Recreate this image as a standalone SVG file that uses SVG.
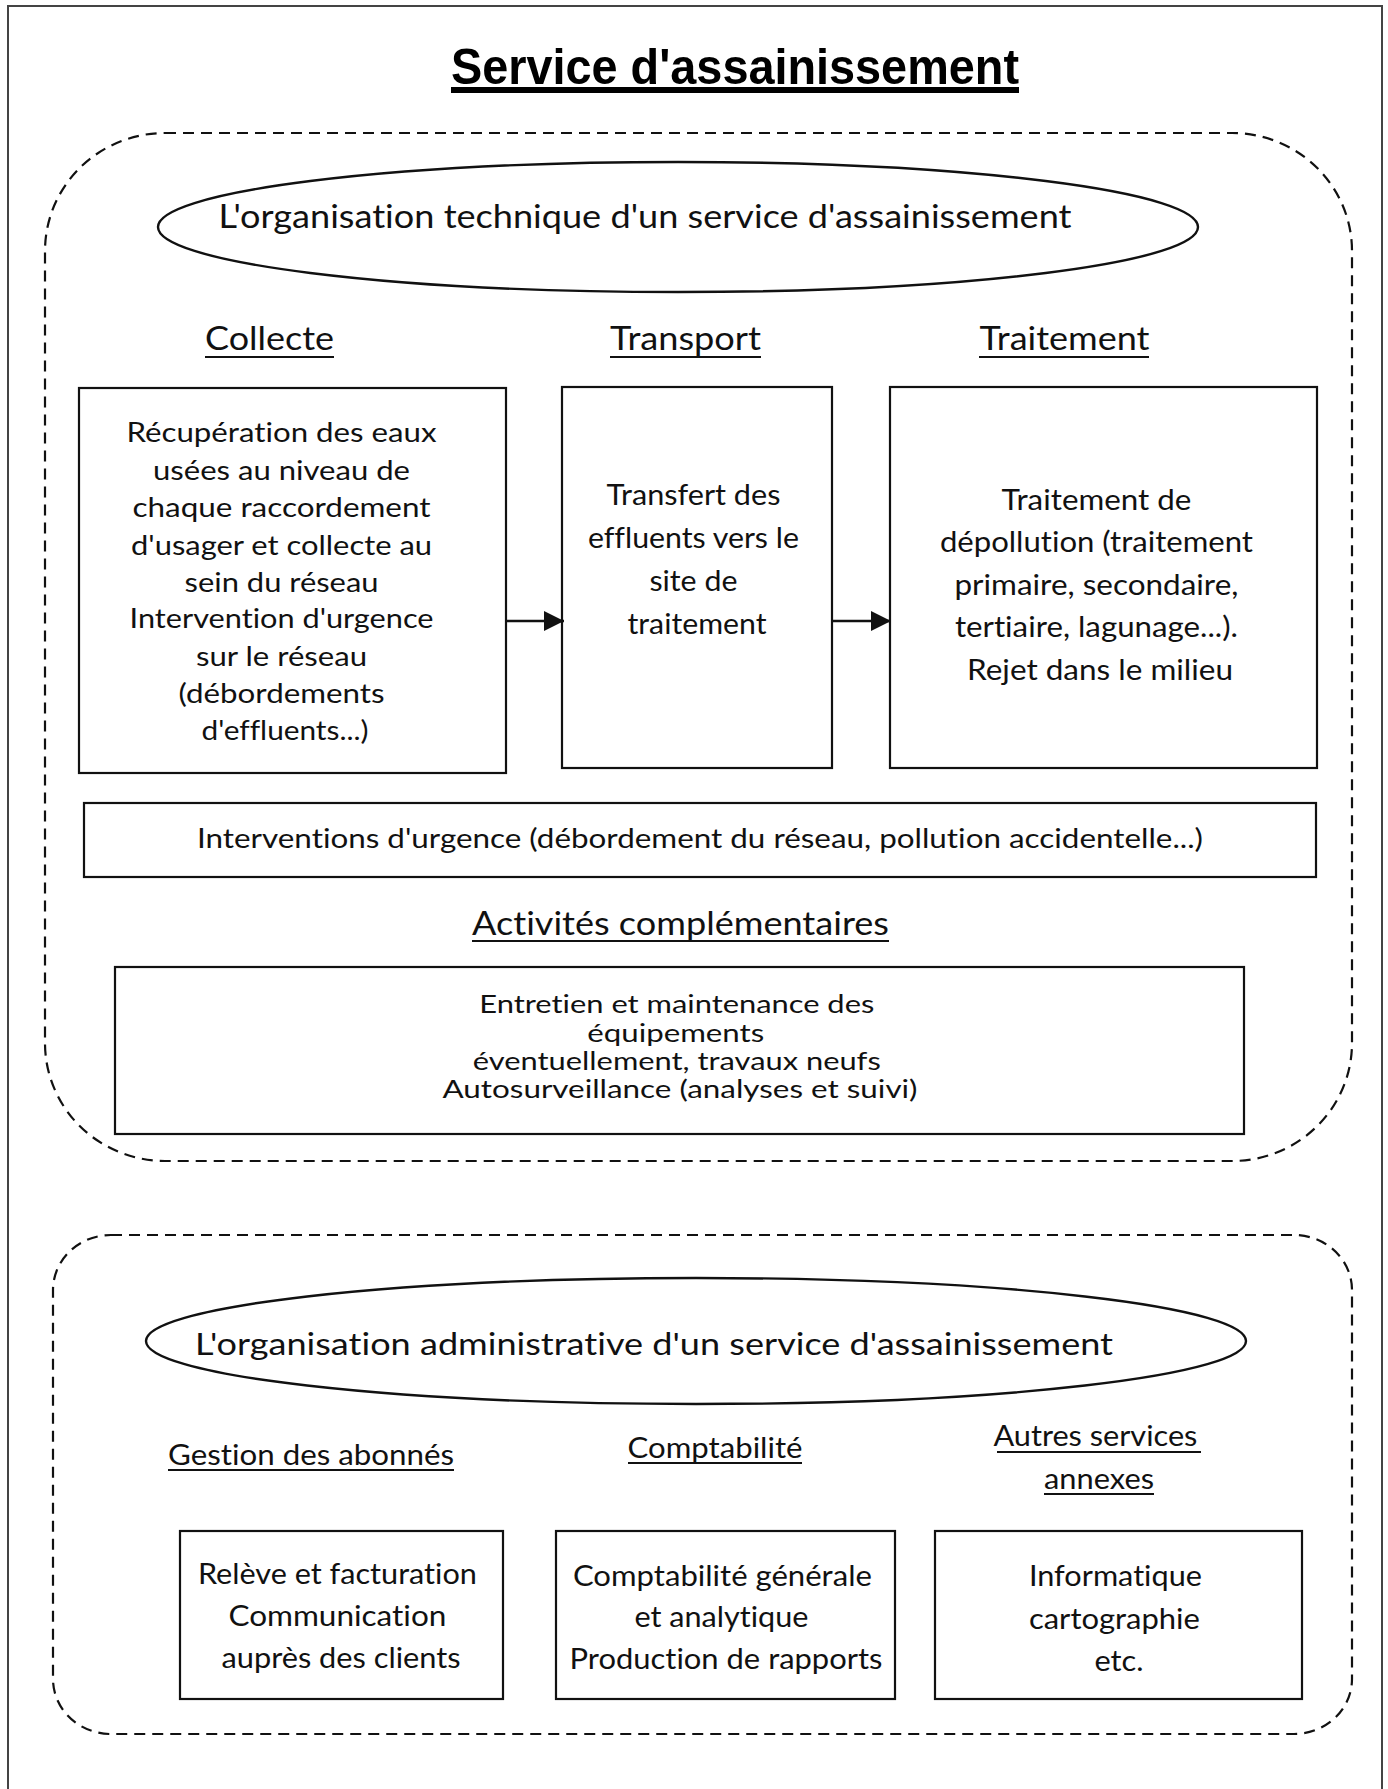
<svg xmlns="http://www.w3.org/2000/svg" width="1388" height="1789" viewBox="0 0 1388 1789">
<style>
.t{font-family:Lato,"Open Sans","Liberation Sans",sans-serif;fill:#111;text-anchor:middle;font-variant-ligatures:none;font-feature-settings:"liga" 0,"clig" 0,"calt" 0,"dlig" 0;}
.title{font-family:"Liberation Sans",Arial,sans-serif;font-weight:bold;font-size:50px;fill:#000;text-anchor:middle;}
.box{fill:#fff;stroke:#111;stroke-width:2.2;}
.dash{fill:none;stroke:#111;stroke-width:2.2;stroke-dasharray:11 7;}
.ell{fill:#fff;stroke:#111;stroke-width:2.4;}
.ul{stroke:#111;stroke-width:2.2;}
.conn{stroke:#111;stroke-width:2.4;fill:none;}
</style>
<defs>
<marker id="arr" markerUnits="userSpaceOnUse" markerWidth="22" markerHeight="22" refX="20" refY="10" orient="auto">
<path d="M0,0 L20,10 L0,20 Z" fill="#111"/>
</marker>
</defs>
<rect x="0" y="0" width="1388" height="1789" fill="#fff"/>
<rect id="frame" x="8" y="6" width="1374" height="1795" fill="none" stroke="#444" stroke-width="2"/>

<g id="title">
<text class="title" x="735" y="84" textLength="568" lengthAdjust="spacingAndGlyphs">Service d'assainissement</text>
<rect x="451" y="87" width="568" height="6" fill="#000"/>
</g>

<g id="tech-group">
<rect class="dash" x="45" y="133" width="1307" height="1028" rx="120" ry="118"/>
</g>

<g id="tech-ellipse">
<ellipse class="ell" cx="678" cy="227" rx="520" ry="65"/>
<text class="t" x="645" y="228" font-size="32" textLength="853" lengthAdjust="spacingAndGlyphs">L'organisation technique d'un service d'assainissement</text>
</g>

<g id="head-collecte">
<text class="t" x="269.5" y="350" font-size="33" textLength="129" lengthAdjust="spacingAndGlyphs">Collecte</text>
<line class="ul" x1="205" y1="357" x2="334" y2="357"/>
</g>
<g id="head-transport">
<text class="t" x="685.5" y="350" font-size="33" textLength="151" lengthAdjust="spacingAndGlyphs">Transport</text>
<line class="ul" x1="610" y1="357" x2="761" y2="357"/>
</g>
<g id="head-traitement">
<text class="t" x="1064.5" y="350" font-size="33" textLength="170" lengthAdjust="spacingAndGlyphs">Traitement</text>
<line class="ul" x1="979" y1="357" x2="1149" y2="357"/>
</g>

<g id="box-collecte">
<rect class="box" x="79" y="388" width="427" height="385"/>
<text class="t" font-size="27">
<tspan x="285" y="442" textLength="310" lengthAdjust="spacingAndGlyphs">Récupération des eaux</tspan>
<tspan x="285" y="480" textLength="257" lengthAdjust="spacingAndGlyphs">usées au niveau de</tspan>
<tspan x="285" y="517" textLength="298" lengthAdjust="spacingAndGlyphs">chaque raccordement</tspan>
<tspan x="285" y="555" textLength="301" lengthAdjust="spacingAndGlyphs">d'usager et collecte au</tspan>
<tspan x="285" y="592" textLength="194" lengthAdjust="spacingAndGlyphs">sein du réseau</tspan>
<tspan x="285" y="628" textLength="304" lengthAdjust="spacingAndGlyphs">Intervention d'urgence</tspan>
<tspan x="285" y="666" textLength="171" lengthAdjust="spacingAndGlyphs">sur le réseau</tspan>
<tspan x="285" y="703" textLength="206" lengthAdjust="spacingAndGlyphs">(débordements</tspan>
<tspan x="285" y="740" textLength="167" lengthAdjust="spacingAndGlyphs">d'effluents...)</tspan>
</text>
</g>

<g id="box-transport">
<rect class="box" x="562" y="387" width="270" height="381"/>
<text class="t" font-size="28">
<tspan x="697" y="505" textLength="174" lengthAdjust="spacingAndGlyphs">Transfert des</tspan>
<tspan x="697" y="548" textLength="211" lengthAdjust="spacingAndGlyphs">effluents vers le</tspan>
<tspan x="697" y="591" textLength="88" lengthAdjust="spacingAndGlyphs">site de</tspan>
<tspan x="697" y="634" textLength="139" lengthAdjust="spacingAndGlyphs">traitement</tspan>
</text>
</g>

<g id="box-traitement">
<rect class="box" x="890" y="387" width="427" height="381"/>
<text class="t" font-size="28">
<tspan x="1100" y="510" textLength="190" lengthAdjust="spacingAndGlyphs">Traitement de</tspan>
<tspan x="1100" y="552" textLength="313" lengthAdjust="spacingAndGlyphs">dépollution (traitement</tspan>
<tspan x="1100" y="595" textLength="284" lengthAdjust="spacingAndGlyphs">primaire, secondaire,</tspan>
<tspan x="1100" y="637" textLength="283" lengthAdjust="spacingAndGlyphs">tertiaire, lagunage...).</tspan>
<tspan x="1100" y="680" textLength="266" lengthAdjust="spacingAndGlyphs">Rejet dans le milieu</tspan>
</text>
</g>

<g id="connectors">
<line class="conn" x1="506" y1="621" x2="564" y2="621" marker-end="url(#arr)"/>
<line class="conn" x1="832" y1="621" x2="891" y2="621" marker-end="url(#arr)"/>
</g>

<g id="box-interventions">
<rect class="box" x="84" y="803" width="1232" height="74"/>
<text class="t" x="700" y="848" font-size="27" textLength="1006" lengthAdjust="spacingAndGlyphs">Interventions d'urgence (débordement du réseau, pollution accidentelle...)</text>
</g>

<g id="head-activites">
<text class="t" x="680.5" y="935" font-size="32" textLength="417" lengthAdjust="spacingAndGlyphs">Activités complémentaires</text>
<line class="ul" x1="472" y1="941" x2="889" y2="941"/>
</g>

<g id="box-activites">
<rect class="box" x="115" y="967" width="1129" height="167"/>
<text class="t" font-size="25">
<tspan x="680" y="1013" textLength="395" lengthAdjust="spacingAndGlyphs">Entretien et maintenance des</tspan>
<tspan x="679" y="1042" textLength="177" lengthAdjust="spacingAndGlyphs">équipements</tspan>
<tspan x="680" y="1070" textLength="408" lengthAdjust="spacingAndGlyphs">éventuellement, travaux neufs</tspan>
<tspan x="680" y="1098" textLength="475" lengthAdjust="spacingAndGlyphs">Autosurveillance (analyses et suivi)</tspan>
</text>
</g>

<g id="admin-group">
<rect class="dash" x="53" y="1235" width="1299" height="499" rx="58" ry="55"/>
</g>

<g id="admin-ellipse">
<ellipse class="ell" cx="696" cy="1341" rx="550" ry="63"/>
<text class="t" x="654" y="1355" font-size="30" textLength="918" lengthAdjust="spacingAndGlyphs">L'organisation administrative d'un service d'assainissement</text>
</g>

<g id="head-gestion">
<text class="t" x="311" y="1465" font-size="28" textLength="286" lengthAdjust="spacingAndGlyphs">Gestion des abonnés</text>
<line class="ul" x1="168" y1="1470" x2="454" y2="1470"/>
</g>
<g id="head-comptabilite">
<text class="t" x="715" y="1458" font-size="28" textLength="175" lengthAdjust="spacingAndGlyphs">Comptabilité</text>
<line class="ul" x1="628" y1="1463" x2="802" y2="1463"/>
</g>
<g id="head-autres">
<text class="t" font-size="28">
<tspan x="1099" y="1446" textLength="204" lengthAdjust="spacingAndGlyphs">Autres services</tspan>
<tspan x="1099" y="1489" textLength="110" lengthAdjust="spacingAndGlyphs">annexes</tspan>
</text>
<line class="ul" x1="997" y1="1452" x2="1201" y2="1452"/>
<line class="ul" x1="1044" y1="1494" x2="1154" y2="1494"/>
</g>

<g id="box-gestion">
<rect class="box" x="180" y="1531" width="323" height="168"/>
<text class="t" font-size="28">
<tspan x="341" y="1584" textLength="279" lengthAdjust="spacingAndGlyphs">Relève et facturation</tspan>
<tspan x="341" y="1626" textLength="218" lengthAdjust="spacingAndGlyphs">Communication</tspan>
<tspan x="341" y="1668" textLength="239" lengthAdjust="spacingAndGlyphs">auprès des clients</tspan>
</text>
</g>

<g id="box-comptabilite">
<rect class="box" x="556" y="1531" width="339" height="168"/>
<text class="t" font-size="28">
<tspan x="726" y="1586" textLength="299" lengthAdjust="spacingAndGlyphs">Comptabilité générale</tspan>
<tspan x="725" y="1627" textLength="174" lengthAdjust="spacingAndGlyphs">et analytique</tspan>
<tspan x="726" y="1669" textLength="313" lengthAdjust="spacingAndGlyphs">Production de rapports</tspan>
</text>
</g>

<g id="box-autres">
<rect class="box" x="935" y="1531" width="367" height="168"/>
<text class="t" font-size="28">
<tspan x="1119" y="1586" textLength="173" lengthAdjust="spacingAndGlyphs">Informatique</tspan>
<tspan x="1118" y="1629" textLength="171" lengthAdjust="spacingAndGlyphs">cartographie</tspan>
<tspan x="1119" y="1671" textLength="49" lengthAdjust="spacingAndGlyphs">etc.</tspan>
</text>
</g>
</svg>
